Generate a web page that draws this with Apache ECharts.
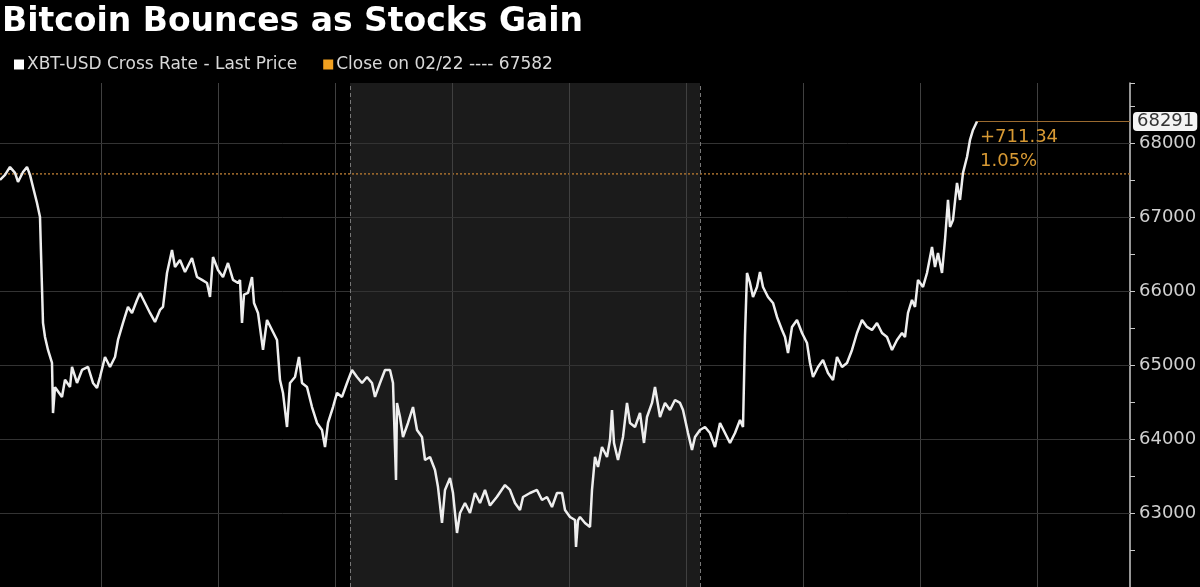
<!DOCTYPE html>
<html>
<head>
<meta charset="utf-8">
<script src="https://cdn.jsdelivr.net/npm/echarts@6/dist/echarts.min.js"></script>
<style>
html,body{margin:0;padding:0;background:#000;}
#chart{width:1200px;height:587px;}
</style>
</head>
<body>
<div id="chart"></div>
<script>
// ---- data ----
const titleText = 'Bitcoin Bounces as Stocks Gain';
const mainName = 'XBT-USD Cross Rate - Last Price';
const closeName = 'Close on 02/22';
const closePrice = 67582;
const changeLabel = '+711.34';
const pctLabel = '1.05%';
// time (chart time units from left edge)
const times = [0,5,10,15,18,23,27,30,33,37,40,41,43,45,48,52,53,55,57,62,65,70,72,77,82,88,93,97,100,105,110,115,118,123,128,132,137,140,145,150,155,160,163,167,172,175,180,185,192,197,202,207,210,213,218,223,228,233,238,240,242,244,248,252,254,258,263,267,272,277,280,283,287,290,295,299,302,307,312,317,322,325,328,333,337,342,347,352,357,362,367,372,375,380,385,390,393,396,397,400,403,408,413,417,422,425,430,435,438,442,445,450,453,457,460,465,470,475,480,485,490,497,505,510,515,520,523,530,537,542,547,552,557,562,565,570,575,576,578,580,585,590,592,595,598,602,607,610,612,614,618,623,627,630,635,640,644,647,652,655,660,665,670,675,680,683,688,692,695,700,705,710,715,720,725,730,735,740,743,745,747,750,753,757,760,763,768,773,777,782,785,788,792,797,802,807,810,813,818,823,828,833,837,842,847,852,857,862,867,872,877,882,887,892,897,902,905,908,912,915,918,923,927,932,935,938,942,945,948,950,953,957,960,963,967,970,973,977];
const prices = [67500,67568,67676,67595,67473,67608,67676,67568,67405,67189,67000,66514,65568,65378,65203,65027,64350,64700,64663,64568,64800,64703,64973,64757,64933,64973,64757,64690,64838,65108,64973,65108,65338,65568,65784,65703,65878,65973,65838,65703,65581,65743,65784,66243,66554,66324,66419,66257,66446,66189,66149,66108,65919,66459,66284,66189,66378,66149,66108,66149,65568,65950,65973,66189,65838,65703,65203,65608,65473,65338,64797,64622,64162,64757,64838,65108,64757,64703,64432,64216,64122,63892,64216,64432,64622,64568,64757,64933,64838,64757,64838,64757,64568,64757,64933,64933,64757,63447,64487,64297,64027,64216,64432,64122,64027,63716,63757,63581,63351,62865,63311,63473,63270,62730,63000,63135,63000,63270,63135,63311,63100,63220,63378,63311,63135,63041,63216,63270,63311,63176,63216,63081,63270,63270,63041,62946,62905,62541,62900,62946,62865,62811,63311,63757,63622,63892,63757,63986,64392,63946,63716,64027,64487,64216,64162,64351,63946,64297,64487,64703,64297,64487,64392,64527,64487,64392,64081,63851,64027,64122,64162,64081,63892,64216,64081,63946,64081,64257,64162,65400,66243,66108,65919,66054,66257,66054,65919,65838,65649,65473,65378,65162,65514,65608,65432,65297,65027,64838,64973,65068,64892,64797,65108,64973,65027,65203,65432,65608,65514,65473,65568,65432,65378,65203,65338,65432,65378,65703,65878,65784,66149,66054,66243,66595,66324,66514,66243,66689,67230,66865,66959,67459,67230,67595,67811,68041,68176,68291];
// axis / reference lines
const xMin = 0, xMax = 1130;
const yMin = 62000, yMax = 68810;
const yLabelTicks = [63000, 64000, 65000, 66000, 67000, 68000];
const gridTimes = [101, 218, 335, 452, 569, 686, 803, 920, 1037];
const sessionTimes = [350, 700];

// ---- chart ----
const chart = echarts.init(document.getElementById('chart'), null, {renderer: 'canvas'});
const mainData = times.map((t, i) => [t, prices[i]]);
const lastT = times[times.length - 1];
const lastP = prices[prices.length - 1];
const FONT = 'DejaVu Sans';

const gridMarkData = [];
gridTimes.forEach(t => gridMarkData.push({xAxis: t, lineStyle: {color: '#404040', width: 1, type: 'solid'}}));
yLabelTicks.forEach(v => gridMarkData.push({yAxis: v, lineStyle: {color: '#333', width: 1, type: 'solid'}}));
sessionTimes.forEach(t => gridMarkData.push({xAxis: t, lineStyle: {color: '#777', width: 1, type: [4, 3]}}));

const option = {
  backgroundColor: '#000',
  animation: false,
  textStyle: {fontFamily: FONT},
  title: {
    text: titleText, left: 2, top: 6, padding: 0,
    textStyle: {color: '#fff', fontSize: 33, fontWeight: 'bold', fontFamily: FONT}
  },
  legend: {
    left: 14, top: 56, padding: 0,
    icon: 'rect', itemWidth: 10, itemHeight: 10, itemGap: 26,
    data: [
      {name: mainName, itemStyle: {color: '#ffffff', borderWidth: 0}},
      {name: closeName, itemStyle: {color: '#f0a020', borderWidth: 0}}
    ],
    formatter: n => n === closeName ? n + ' ---- ' + closePrice : n,
    textStyle: {color: '#d8d8d8', fontSize: 17, fontFamily: FONT, padding: [0, 0, 0, -2]}
  },
  grid: {left: 0, right: 70, top: 83, bottom: 0, containLabel: false},
  xAxis: {
    type: 'value', min: xMin, max: xMax,
    axisLine: {show: false}, axisTick: {show: false}, axisLabel: {show: false}, splitLine: {show: false}
  },
  yAxis: {
    type: 'value', position: 'right', min: yMin, max: yMax, interval: 500,
    axisLine: {show: true, onZero: false, lineStyle: {color: '#c8c8c8', width: 1.5}},
    axisTick: {show: true, length: 5, inside: false, lineStyle: {color: '#c8c8c8'}},
    axisLabel: {
      color: '#d0d0d0', fontSize: 18, fontFamily: FONT, margin: 9,
      formatter: v => yLabelTicks.indexOf(v) >= 0 ? String(v) : ''
    },
    splitLine: {show: false}
  },
  series: [
    {
      name: 'grid', type: 'line', data: [[xMin, closePrice], [xMax, closePrice]],
      showSymbol: false, silent: true, lineStyle: {width: 0, opacity: 0}, z: 1,
      markArea: {
        silent: true,
        itemStyle: {color: '#1b1b1b'},
        data: [[{xAxis: sessionTimes[0]}, {xAxis: sessionTimes[1]}]]
      },
      markLine: {
        silent: true, symbol: ['none', 'none'], label: {show: false},
        data: gridMarkData
      }
    },
    {
      name: closeName, type: 'line', data: [[xMin, closePrice], [xMax, closePrice]],
      showSymbol: false, silent: true, z: 3,
      itemStyle: {color: '#f0a020'},
      lineStyle: {color: '#a8702e', width: 1.5, type: [2, 2]}
    },
    {
      name: mainName, type: 'line', data: mainData, showSymbol: false, z: 5,
      itemStyle: {color: '#ffffff'},
      lineStyle: {color: '#eeeeee', width: 2.5},
      markLine: {
        silent: true, symbol: ['none', 'none'],
        lineStyle: {color: '#9a6a30', width: 1, type: 'solid'},
        label: {
          show: true, position: 'end', distance: 3,
          formatter: () => String(lastP),
          backgroundColor: '#f4f4f4', color: '#333', fontSize: 18, fontFamily: FONT,
          padding: [1, 3, 0, 4], borderRadius: 4
        },
        data: [[{coord: [lastT, lastP]}, {coord: [xMax, lastP]}]]
      },
      markPoint: {
        silent: true, symbol: 'circle', symbolSize: 0,
        label: {
          show: true, position: [3, 4], align: 'left', verticalAlign: 'top',
          formatter: () => changeLabel + '\n' + pctLabel,
          color: '#d89a34', fontSize: 18, lineHeight: 24, fontFamily: FONT
        },
        data: [{coord: [lastT, lastP]}]
      }
    }
  ]
};
chart.setOption(option);
</script>
</body>
</html>
